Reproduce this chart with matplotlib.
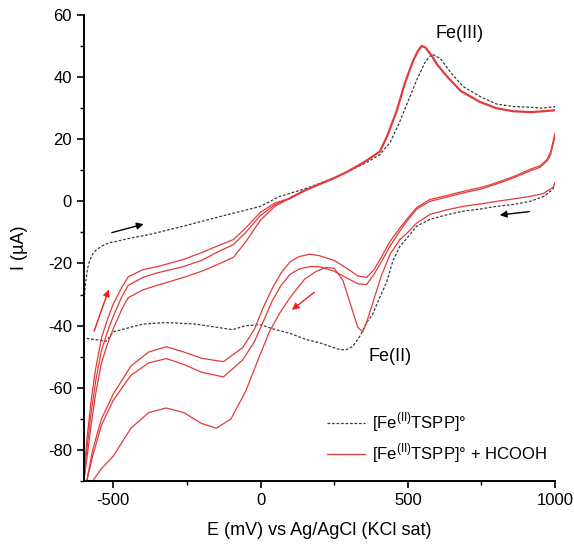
import matplotlib
matplotlib.use("Agg")
import matplotlib.pyplot as plt
from matplotlib.ticker import MultipleLocator

plt.rcParams['font.family'] = ['Liberation Sans', 'DejaVu Sans']
plt.rcParams['axes.unicode_minus'] = False

# ---------------- data (E in mV, I in uA) ----------------
# [Fe(II)TSPP]° without HCOOH: forward (anodic) and reverse (cathodic) branches
black_fwd_E = [-600, -595, -588, -580, -570, -560, -540, -514, -490, -450, -374, -262, -150, -50, 0,
               65, 150, 250, 350, 405, 440, 470, 500, 530, 560, 582, 610, 650, 687, 750, 802, 860,
               915, 960, 1000]
black_fwd_I = [-33, -27, -22, -19, -17, -15.8, -14.5, -13.3, -12.9, -12, -10.6, -8, -5.2, -2.8, -1.6,
               1.6, 4, 7.5, 12, 15, 19, 25, 32, 39, 45, 47.4, 46, 41, 37, 33.5, 31.3, 30.5,
               30.3, 30, 30.5]
black_rev_E = [1000, 993, 960, 915, 860, 802, 750, 687, 630, 575, 530, 496, 473, 450, 428, 400, 380,
               360, 340, 313, 290, 269, 240, 200, 156, 100, 41, 0, -50, -95, -150, -220, -320, -400,
               -460, -500, -524, -560, -599]
black_rev_I = [6, 3.9, 1.5, 0, -1, -1.6, -2.4, -3.2, -4.4, -5.8, -8, -12, -14.5, -19, -26, -32, -36.5,
               -39, -43, -46.7, -47.8, -47.7, -46.8, -45.5, -44.5, -42.5, -41, -39.7, -40, -41.3,
               -40.5, -39.5, -39, -39.5, -41, -42, -45, -44.5, -44]

# [Fe(II)TSPP]° + HCOOH: three cycles
red_fwd_E = [-600, -590, -575, -560, -540, -520, -500, -470, -449, -400, -350, -262, -200, -150,
             -92, -50, 0, 50, 100]
red_fwd_A = [-90, -83, -72, -62, -52, -46, -41, -34.5, -31, -28.5, -27, -24.5, -22.5, -20.5,
             -18, -13, -6, -1.5, 1]
red_fwd_B = [-90, -80, -68, -58, -48, -42, -37, -30.5, -27, -24.5, -23, -21, -19, -16.5,
             -13.9, -10, -4.5, -1, 1]
red_fwd_C = [-90, -77, -64, -54, -44, -38, -33, -27.5, -24.3, -22, -21, -18.7, -16.5, -14.5,
             -12.3, -8.5, -3.5, -0.5, 1]
red_tail_E = [100, 150, 200, 250, 292, 350, 405, 430, 462, 490, 517, 535, 547, 560, 580, 600,
              632, 680, 745, 800, 857, 920, 1000]
red_tail_I = [1, 3.5, 5.5, 7.5, 9.4, 12.5, 16, 21, 29, 38, 45, 48.5, 50, 49.5, 47, 44,
              40.3, 35.5, 32, 30, 29, 28.7, 29.3]

red_rev_A_E = [1000, 993, 960, 915, 860, 802, 750, 687, 630, 575, 530, 500, 473, 440, 410, 380,
               360, 347, 330, 305, 280, 250, 220, 190, 150, 100, 65, 30, 0, -50, -100, -150, -200,
               -260, -320, -380, -440, -500, -540, -570]
red_rev_A_I = [6, 4.5, 2.5, 1.6, 0.8, 0, -0.8, -1.6, -2.8, -4.2, -7, -10, -12.3, -17, -24, -33,
               -39, -42, -40.5, -33, -25.5, -21.5, -21.3, -22.5, -25, -31, -36, -42, -49, -61,
               -70, -73, -71.5, -68, -66.5, -68, -73, -82, -86, -90]
red_rev_B_E = [1000, 985, 973, 950, 915, 860, 802, 750, 687, 630, 575, 530, 496, 470, 439, 410,
               385, 360, 330, 300, 250, 200, 167, 130, 100, 70, 40, 10, -20, -60, -126, -200, -260,
               -320, -380, -440, -500, -540, -570, -590]
red_rev_B_I = [22, 16, 13.5, 11.5, 10.3, 8, 6, 4.5, 3.2, 1.8, 0.6, -2, -5.8, -9, -13, -18,
               -22, -24.5, -24, -22, -19, -17.5, -17, -17.8, -19.5, -23, -28, -34, -41, -47, -51.6,
               -50.5, -48.5, -46.8, -48.5, -53, -62, -70, -80, -90]
red_rev_C_I = [21, 15, 13, 11, 9.8, 7.6, 5.6, 4, 2.7, 1.3, 0, -2.5, -6.5, -10, -14.5, -19.5,
               -23.5, -26.8, -26.5, -25, -22.5, -21, -21, -21.8, -23.5, -27, -32, -38.5, -45, -51,
               -56.5, -55, -52.5, -50.6, -52, -56, -64, -72, -82, -90]

legend_labels = [r'[Fe$^{\mathregular{(II)}}$TSPP]°', r'[Fe$^{\mathregular{(II)}}$TSPP]° + HCOOH']
peak_labels = ['Fe(III)', 'Fe(II)']

# ---------------- figure ----------------
fig = plt.figure(figsize=(5.74, 5.52), dpi=100)
ax = fig.add_axes([0.146, 0.1286, 0.821, 0.8444])

red = '#e23b3b'
blk = '#3a3a3a'
ls_b = (0, (2.2, 1.4))
common = dict(solid_joinstyle='round', dash_joinstyle='round')

lb, = ax.plot(black_fwd_E, black_fwd_I, color=blk, lw=0.9, ls=ls_b, **common)
ax.plot(black_rev_E, black_rev_I, color=blk, lw=0.9, ls=ls_b, **common)

lr, = ax.plot(red_fwd_E, red_fwd_A, color=red, lw=0.9, **common)
ax.plot(red_fwd_E, red_fwd_B, color=red, lw=0.9, **common)
ax.plot(red_fwd_E, red_fwd_C, color=red, lw=0.9, **common)
ax.plot(red_tail_E, red_tail_I, color=red, lw=1.6, **common)
ax.plot(red_rev_A_E, red_rev_A_I, color=red, lw=0.9, **common)
ax.plot(red_rev_B_E, red_rev_B_I, color=red, lw=0.9, **common)
ax.plot(red_rev_B_E, red_rev_C_I, color=red, lw=0.9, **common)

ax.set_xlim(-600, 1000)
ax.set_ylim(-90, 60)

for s in ['top', 'right']:
    ax.spines[s].set_visible(False)
for s in ['left', 'bottom']:
    ax.spines[s].set_linewidth(1.4)

ax.xaxis.set_major_locator(MultipleLocator(500))
ax.xaxis.set_minor_locator(MultipleLocator(250))
ax.yaxis.set_major_locator(MultipleLocator(20))
ax.yaxis.set_minor_locator(MultipleLocator(10))
ax.tick_params(which='major', direction='out', length=5, width=1.2, labelsize=12)
ax.tick_params(which='minor', direction='out', length=3, width=1.0)

ax.set_xlabel('E (mV) vs Ag/AgCl (KCl sat)', fontsize=13, labelpad=10)
ax.set_ylabel('I (µA)', fontsize=13, labelpad=14)

# arrows
akw = dict(arrowstyle='-|>', mutation_scale=10, lw=1.0)
ax.annotate('', xy=(-388, -7.1), xytext=(-514, -10.3), arrowprops=dict(color='black', **akw))
ax.annotate('', xy=(803, -4.5), xytext=(922, -3.2), arrowprops=dict(color='black', **akw))
ax.annotate('', xy=(-512, -27.5), xytext=(-568, -42.6), arrowprops=dict(color='#e8231f', **akw))
ax.annotate('', xy=(99, -35.5), xytext=(190, -28.7), arrowprops=dict(color='#e8231f', **akw))

ax.text(677, 54, peak_labels[0], fontsize=13, ha='center', va='center')
ax.text(439, -50, peak_labels[1], fontsize=13, ha='center', va='center')

ax.legend([lb, lr], legend_labels, loc='upper left', bbox_to_anchor=(0.484, 0.183),
          frameon=False, fontsize=12, handlelength=2.3, handletextpad=0.4, labelspacing=0.45)

fig.savefig('out.png', dpi=100)
